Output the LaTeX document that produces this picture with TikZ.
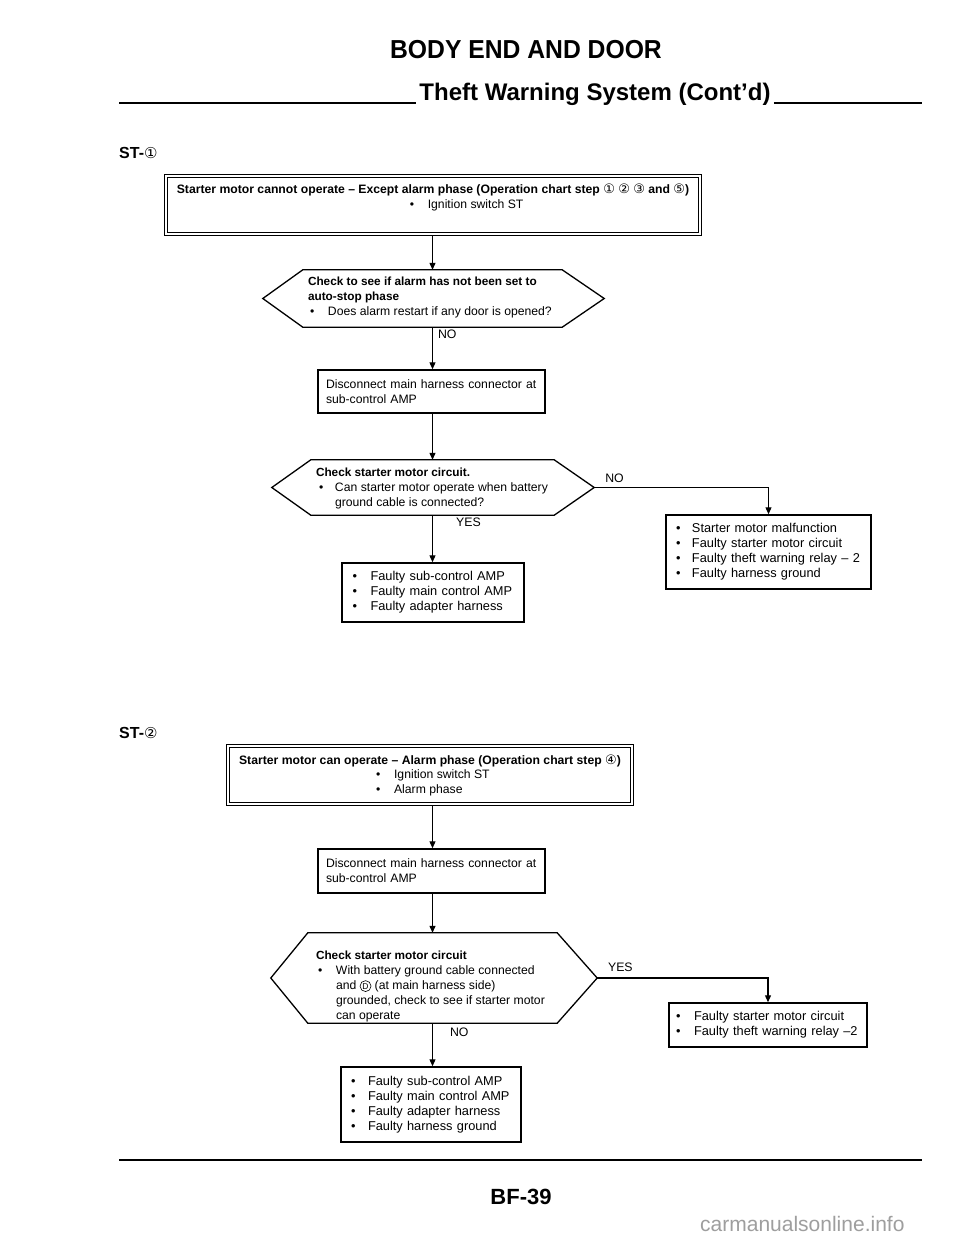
\documentclass[tikz,border=0pt]{standalone}
\usepackage{fontspec}
\setmainfont{Liberation Sans}
\newfontfamily\circfont{DejaVu Sans}
\newfontfamily\headfont{Liberation Sans}
\newfontfamily\titlefont{Liberation Sans}[FakeStretch=0.95]
\usetikzlibrary{arrows.meta,calc,backgrounds}
\newcommand\cnum[1]{{\circfont\mdseries\fontsize{13}{13}\selectfont #1}}
\newcommand\cletter[1]{\tikz[baseline=(cl.base)]{\node[draw, circle, line width=0.6pt, inner sep=0.9pt, font=\fontsize{8.5}{9}\selectfont] (cl) {#1};}}
\newcommand\bl[1][18pt]{\makebox[#1][l]{\textbullet}}
\newcommand\bfx[1]{{\fontsize{11.8}{15}\selectfont\bfseries #1}}
\tikzset{
  txt/.style={font=\fontsize{12.2}{15}\selectfont, align=left},
  boxs/.style={draw, fill=white, line width=1.5pt, txt, inner ysep=0pt},
  rbox/.style={boxs, font=\fontsize{12.8}{15}\selectfont},
  dbox/.style={draw, fill=white, line width=1pt, double, double distance=2.6pt,
    font=\fontsize{12.2}{14.5}\selectfont, align=left, inner ysep=0pt, inner xsep=11pt},
  hexbox/.style={inner sep=0pt},
  hexline/.style={line width=1.3pt, line join=miter},
  hext/.style={txt, inner sep=0pt, anchor=west},
  arr/.style={line width=1.2pt, -{Triangle[length=7pt,width=6pt]}},
  lbl/.style={font=\fontsize{12.3}{14}\selectfont, inner sep=0pt, anchor=base west},
  head/.style={font=\headfont\bfseries, inner sep=0pt},
}
\begin{document}
\begin{tikzpicture}[x=1pt,y=-1pt]
\useasboundingbox (0,0) rectangle (960,1240);
\begin{scope}[on background layer]
\fill[white] (0,0) rectangle (960,1240);
\end{scope}

% headings
\node[head, font=\titlefont\bfseries\fontsize{26}{28}\selectfont] (title) at (526,50) {BODY END AND DOOR};
\node[head, font=\headfont\bfseries\fontsize{24}{26}\selectfont, anchor=base] (sub) at (595,100) {Theft Warning System (Cont’d)};
\draw[line width=1.6pt] (119,103) -- ([xshift=-3pt]sub.base west |- 0,103);
\draw[line width=1.6pt] ([xshift=3pt]sub.base east |- 0,103) -- (922,103);
\node[head, font=\headfont\bfseries\fontsize{16}{18}\selectfont, anchor=west] (st1) at (119,153) {ST-{\circfont\mdseries\fontsize{15}{15}\selectfont ①}};
\node[head, font=\headfont\bfseries\fontsize{16}{18}\selectfont, anchor=west] (st2) at (119,733) {ST-{\circfont\mdseries\fontsize{15}{15}\selectfont ②}};

% ===== ST-1 =====
\node[dbox, minimum height=58pt] (b1) at (433,205)
  {\textbf{Starter motor cannot operate – Except alarm phase (Operation chart step \cnum{①} \cnum{②} \cnum{③} and \cnum{⑤})}\\
   \hspace*{233pt}\bl Ignition switch ST\rule[-17.5pt]{0pt}{1pt}};

\node[hexbox, minimum width=259pt, minimum height=57pt] (d1) at (432.5,298.5) {};
\coordinate (d1l) at ($(d1.west)+(-40,0)$);
\coordinate (d1r) at ($(d1.east)+(42,0)$);
\draw[hexline] (d1.north west) -- (d1.north east) -- (d1r) -- (d1.south east) -- (d1.south west) -- (d1l) -- cycle;
\node[hext] (d1t) at ($(d1.west)+(5,-1)$)
  {\bfx{Check to see if alarm has not been set to}\\
   \bfx{auto-stop phase}\\
   \hspace*{2pt}\bl Does alarm restart if any door is opened?};

\node[boxs, minimum width=227pt, minimum height=43pt, text width=211pt, inner xsep=8pt] (b2) at (431.5,391.5)
  {Disconnect main harness connector at\\sub-control AMP};

\node[hexbox, minimum width=243pt, minimum height=55pt] (d2) at (432.5,487.5) {};
\coordinate (d2l) at ($(d2.west)+(-39,0)$);
\coordinate (d2r) at ($(d2.east)+(40,0)$);
\draw[hexline] (d2.north west) -- (d2.north east) -- (d2r) -- (d2.south east) -- (d2.south west) -- (d2l) -- cycle;
\node[hext] (d2t) at ($(d2.west)+(5,0.5)$)
  {\bfx{Check starter motor circuit.}\\
   \hspace*{3pt}\bl[16pt]Can starter motor operate when battery\\
   \hspace*{19pt}ground cable is connected?};

\node[rbox, minimum width=182pt, minimum height=59pt, text width=161pt, inner xsep=10.5pt] (b3) at (433,592.5)
  {\bl Faulty sub-control AMP\\\bl Faulty main control AMP\\\bl Faulty adapter harness};

\node[rbox, minimum width=205pt, minimum height=74pt, text width=185pt, inner xsep=10pt] (b4) at (768.5,552)
  {\bl[16pt]Starter motor malfunction\\\bl[16pt]Faulty starter motor circuit\\\bl[16pt]Faulty theft warning relay – 2\\\bl[16pt]Faulty harness ground};

% ===== ST-2 =====
\node[dbox, minimum height=58pt] (b5) at (430,775)
  {\textbf{Starter motor can operate – Alarm phase (Operation chart step \cnum{④})}\\
   \hspace*{137pt}\bl Ignition switch ST\\
   \hspace*{137pt}\bl Alarm phase};

\node[boxs, minimum width=227pt, minimum height=44pt, text width=211pt, inner xsep=8pt] (b6) at (431.5,871)
  {Disconnect main harness connector at\\sub-control AMP};

\node[hexbox, minimum width=249pt, minimum height=90pt] (d3) at (432.5,978) {};
\coordinate (d3l) at ($(d3.west)+(-37,0)$);
\coordinate (d3r) at ($(d3.east)+(40,0)$);
\draw[hexline] (d3.north west) -- (d3.north east) -- (d3r) -- (d3.south east) -- (d3.south west) -- (d3l) -- cycle;
\node[hext] (d3t) at ($(d3.west)+(8,8)$)
  {\bfx{Check starter motor circuit}\\
   \hspace*{2pt}\bl With battery ground cable connected\\
   \hspace*{20pt}and \cletter{D} (at main harness side)\\
   \hspace*{20pt}grounded, check to see if starter motor\\
   \hspace*{20pt}can operate};

\node[rbox, minimum width=198pt, minimum height=44pt, text width=184pt, inner xsep=7pt] (b7) at (768,1025)
  {\bl Faulty starter motor circuit\\\bl Faulty theft warning relay –2};

\node[rbox, minimum width=180pt, minimum height=75pt, text width=160pt, inner xsep=10pt] (b8) at (431,1104.5)
  {\bl[17pt]Faulty sub-control AMP\\\bl[17pt]Faulty main control AMP\\\bl[17pt]Faulty adapter harness\\\bl[17pt]Faulty harness ground};

% connectors
\begin{scope}[on background layer]
\draw[arr] (d1.north |- b1.south) -- (d1.north);
\draw[arr] (d1.south) -- node[lbl, pos=0.28, xshift=5pt] {NO} (d1.south |- b2.north);
\draw[arr] (d2.north |- b2.south) -- (d2.north);
\draw[arr] (d2.south) -- node[lbl, pos=0.25, xshift=23pt] {YES} (d2.south |- b3.north);
\draw[arr] (d2r) -| node[lbl, pos=0.03, yshift=5pt] {NO} (b4.north);
\draw[arr] (d3.north |- b5.south) -- (d3.north |- b6.north);
\draw[arr] (d3.north |- b6.south) -- (d3.north);
\draw[arr] (d3.south) -- node[lbl, pos=0.32, xshift=17pt] {NO} (d3.south |- b8.north);
\draw[arr] (d3r) -| node[lbl, pos=0.03, yshift=7pt] {YES} (b7.north);
\end{scope}

% footer
\draw[line width=2.8pt] (119,1160) -- (922,1160);
\node[head, font=\headfont\bfseries\fontsize{22}{24}\selectfont] (pg) at (521,1197) {BF-39};
\node[font=\fontsize{21}{22}\selectfont, text=black!38, inner sep=0pt, anchor=base west] (wm) at (700,1231) {carmanualsonline.info};
\end{tikzpicture}
\end{document}
